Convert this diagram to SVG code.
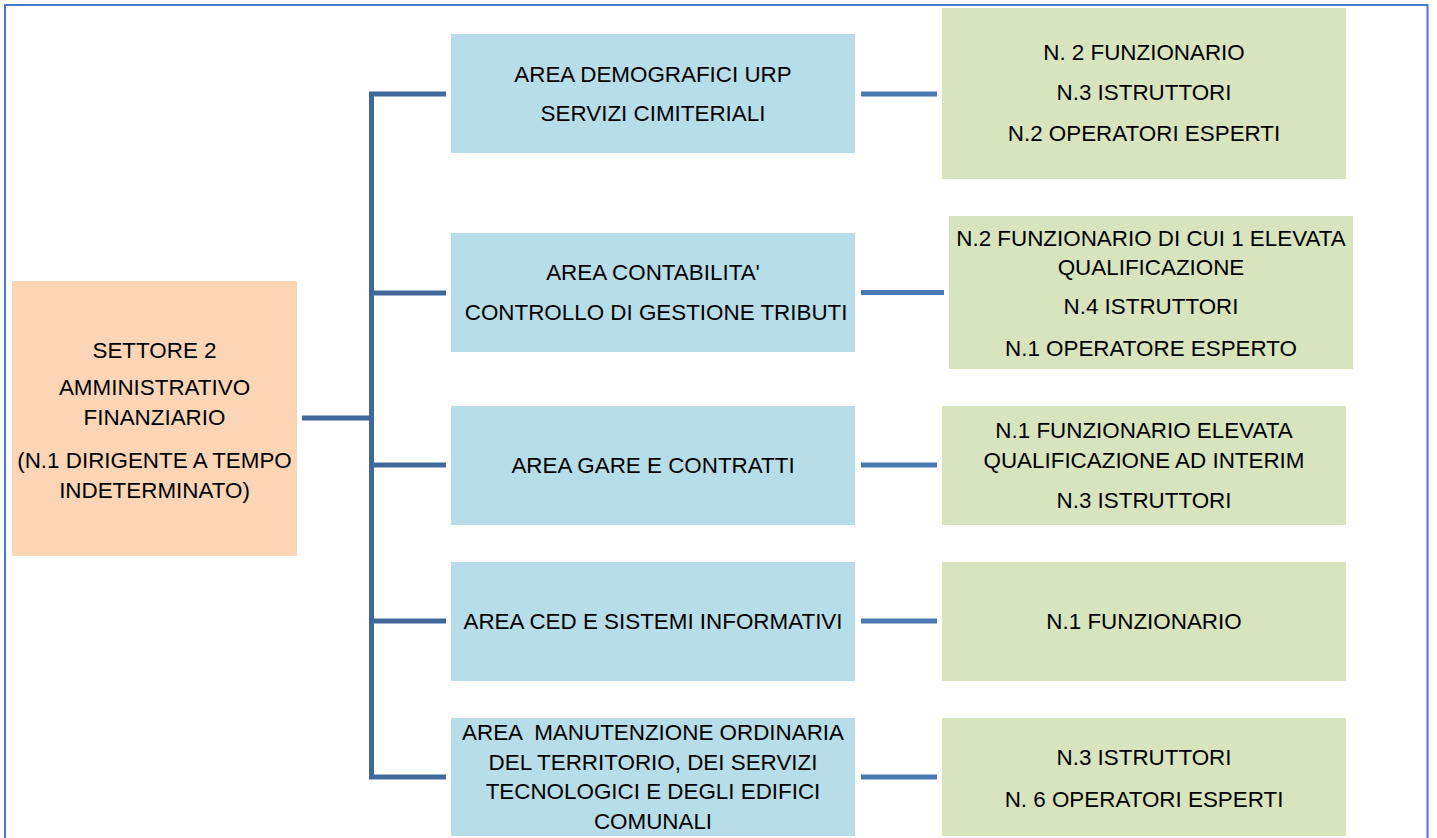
<svg xmlns="http://www.w3.org/2000/svg" width="1437" height="838" viewBox="0 0 1437 838">
  <style>
    .frame { fill: none; stroke: #4A76CC; stroke-width: 2; }
    .root { fill: #FBD5B5; }
    .area { fill: #B7DDE8; }
    .staff { fill: #D7E4BD; }
    .tree { fill: none; stroke: #41689B; stroke-width: 5; }
    .link { fill: none; stroke: #4A78B2; stroke-width: 5; }
    text { font-family: "Liberation Sans", Arial, sans-serif; font-size: 22.4px; fill: #000; text-anchor: middle; white-space: pre; }
  </style>

  <rect width="1437" height="838" fill="#FFFFFF"/>
  <!-- page frame (bottom edge runs off the page) -->
  <path class="frame" d="M5,850 V5 H1427.5 V850"/>

  <!-- connectors -->
  <g id="connectors">
    <path class="tree" d="M302,418 H371.5"/>
    <path class="tree" d="M446,94 H371.5 V777 H446"/>
    <path class="tree" d="M371.5,293 H446 M371.5,465 H446 M371.5,621 H446"/>
    <path class="link" d="M861,94 H937"/>
    <path class="link" d="M861,292.5 H944"/>
    <path class="link" d="M861,465 H937"/>
    <path class="link" d="M861,621 H937"/>
    <path class="link" d="M861,777 H937"/>
  </g>

  <!-- sector head -->
  <g id="settore2">
    <rect class="root" x="12" y="281" width="285" height="275"/>
    <text x="154.5" y="358">SETTORE 2</text>
    <text x="154.5" y="395">AMMINISTRATIVO</text>
    <text x="154.5" y="425">FINANZIARIO</text>
    <text x="154.5" y="468">(N.1 DIRIGENTE A TEMPO</text>
    <text x="154.5" y="498">INDETERMINATO)</text>
  </g>

  <!-- areas -->
  <g id="area-demografici">
    <rect class="area" x="451" y="34" width="404" height="119"/>
    <text x="653" y="82">AREA DEMOGRAFICI URP</text>
    <text x="653" y="121">SERVIZI CIMITERIALI</text>
  </g>
  <g id="area-contabilita">
    <rect class="area" x="451" y="233" width="404" height="119"/>
    <text x="653" y="280">AREA CONTABILITA'</text>
    <text x="653" y="320"> CONTROLLO DI GESTIONE TRIBUTI</text>
  </g>
  <g id="area-gare">
    <rect class="area" x="451" y="406" width="404" height="119"/>
    <text x="653" y="473">AREA GARE E CONTRATTI</text>
  </g>
  <g id="area-ced">
    <rect class="area" x="451" y="562" width="404" height="119"/>
    <text x="653" y="629">AREA CED E SISTEMI INFORMATIVI</text>
  </g>
  <g id="area-manutenzione">
    <rect class="area" x="451" y="718" width="404" height="118"/>
    <text x="653" y="740">AREA  MANUTENZIONE ORDINARIA</text>
    <text x="653" y="770">DEL TERRITORIO, DEI SERVIZI</text>
    <text x="653" y="799">TECNOLOGICI E DEGLI EDIFICI</text>
    <text x="653" y="829">COMUNALI</text>
  </g>

  <!-- staffing -->
  <g id="staff-demografici">
    <rect class="staff" x="942" y="8" width="404" height="171"/>
    <text x="1144" y="60">N. 2 FUNZIONARIO</text>
    <text x="1144" y="100">N.3 ISTRUTTORI</text>
    <text x="1144" y="141">N.2 OPERATORI ESPERTI</text>
  </g>
  <g id="staff-contabilita">
    <rect class="staff" x="949" y="216" width="404" height="153"/>
    <text x="1151" y="246">N.2 FUNZIONARIO DI CUI 1 ELEVATA</text>
    <text x="1151" y="275">QUALIFICAZIONE</text>
    <text x="1151" y="314">N.4 ISTRUTTORI</text>
    <text x="1151" y="356">N.1 OPERATORE ESPERTO</text>
  </g>
  <g id="staff-gare">
    <rect class="staff" x="942" y="406" width="404" height="119"/>
    <text x="1144" y="438">N.1 FUNZIONARIO ELEVATA</text>
    <text x="1144" y="468">QUALIFICAZIONE AD INTERIM</text>
    <text x="1144" y="508">N.3 ISTRUTTORI</text>
  </g>
  <g id="staff-ced">
    <rect class="staff" x="942" y="562" width="404" height="119"/>
    <text x="1144" y="629">N.1 FUNZIONARIO</text>
  </g>
  <g id="staff-manutenzione">
    <rect class="staff" x="942" y="718" width="404" height="118"/>
    <text x="1144" y="765">N.3 ISTRUTTORI</text>
    <text x="1144" y="807">N. 6 OPERATORI ESPERTI</text>
  </g>
</svg>
